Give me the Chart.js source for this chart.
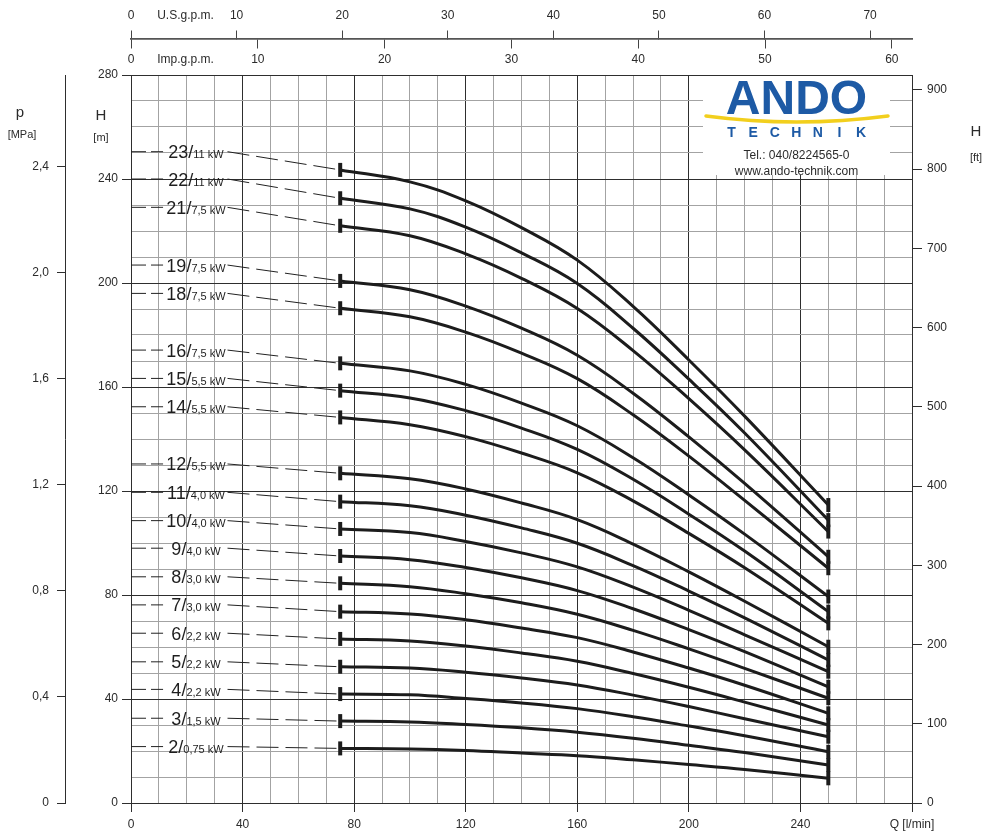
<!DOCTYPE html>
<html>
<head>
<meta charset="utf-8">
<script src="https://cdn.jsdelivr.net/npm/chart.js@4.4.1/dist/chart.umd.min.js"></script>
<style>
  html, body { margin: 0; padding: 0; background: #fff; }
  #wrap { width: 1000px; height: 837px; }
</style>
</head>
<body>
<div id="wrap"><canvas id="pump" width="1000" height="837"></canvas></div>
<script>
var flows = [75, 100, 120, 140, 160, 180, 200, 220, 250];

// stage count and motor power per curve, top to bottom
var stages = [23, 22, 21, 19, 18, 16, 15, 14, 12, 11, 10, 9, 8, 7, 6, 5, 4, 3, 2];
var powers = ['11', '11', '7,5', '7,5', '7,5', '7,5', '5,5', '5,5', '5,5', '4,0', '4,0', '4,0', '3,0', '3,0', '2,2', '2,2', '2,2', '1,5', '0,75'];
// head (m) at which each label sits
var labelHeads = [250.5, 240, 229.1, 206.9, 196, 174.2, 163.3, 152.4, 130.4, 119.5, 108.6, 98, 87, 76.2, 65.3, 54.3, 43.7, 32.6, 21.7];

// head (m) per curve at the flows above
var head23 = [243.5, 238.9, 231.6, 221.3, 208.8, 191.0, 170.4, 148.8, 114.6];
var head22 = [232.6, 228.5, 221.5, 211.6, 199.8, 182.6, 163.0, 142.3, 108.8];
var head21 = [222.0, 218.2, 211.2, 201.8, 190.2, 174.0, 155.5, 135.8, 104.4];
var head19 = [200.8, 197.4, 191.1, 182.6, 172.2, 157.6, 140.8, 122.9, 94.7];
var head18 = [190.3, 187.0, 181.1, 173.0, 163.2, 149.3, 133.4, 116.4, 90.3];
var head16 = [169.1, 166.2, 161.0, 153.8, 145.1, 132.8, 118.5, 103.4, 79.4];
var head15 = [158.6, 155.8, 150.9, 144.2, 136.0, 124.5, 111.1, 96.9, 73.6];
var head14 = [148.3, 145.5, 140.9, 134.6, 127.0, 116.2, 103.7, 90.5, 69.1];
var head12 = [126.8, 124.7, 120.8, 115.4, 109.0, 99.6, 88.9, 77.6, 60.1];
var head11 = [115.9, 114.3, 110.7, 105.8, 99.9, 91.3, 81.5, 71.2, 55.0];
var head10 = [105.4, 104.0, 100.6, 96.2, 90.8, 83.0, 74.1, 64.7, 50.5];
var head9 = [95.0, 93.6, 90.6, 86.6, 81.7, 74.7, 66.7, 58.2, 44.7];
var head8 = [84.5, 83.2, 80.5, 77.0, 72.6, 66.4, 59.3, 51.8, 40.3];
var head7 = [73.6, 72.7, 70.5, 67.3, 63.6, 58.1, 51.9, 45.3, 34.5];
var head6 = [63.1, 62.3, 60.4, 57.7, 54.5, 49.8, 44.5, 38.8, 30.0];
var head5 = [52.4, 51.9, 50.3, 48.1, 45.4, 41.5, 37.1, 32.4, 25.5];
var head4 = [41.9, 41.6, 40.2, 38.5, 36.3, 33.2, 29.6, 25.9, 19.7];
var head3 = [31.5, 31.2, 30.2, 28.9, 27.2, 24.9, 22.2, 19.4, 14.6];
var head2 = [21.0, 20.8, 20.2, 19.2, 18.2, 16.6, 14.8, 12.9, 9.5];

var heads = [head23, head22, head21, head19, head18, head16, head15, head14, head12,
  head11, head10, head9, head8, head7, head6, head5, head4, head3, head2];

// tick labels
var qTicks = [0, 40, 80, 120, 160, 200, 240];
var hTicks = [0, 40, 80, 120, 160, 200, 240, 280];
var pTicks = [0, 0.4, 0.8, 1.2, 1.6, 2.0, 2.4];
var ftTicks = [0, 100, 200, 300, 400, 500, 600, 700, 800, 900];
var usTicks = [0, 10, 20, 30, 40, 50, 60, 70];
var impTicks = [0, 10, 20, 30, 40, 50, 60];

var Q_MAX = 280, H_MAX = 280;
var LPM_PER_USGPM = 3.78541, LPM_PER_IMPGPM = 4.54609;
var FT_PER_M = 3.28084, MPA_PER_M = 0.00980665;

// where the unit names sit on the two top scales (in their own units)
var US_NAME_AT = 5.16, IMP_NAME_AT = 4.3;
// label block on the left, in l/min
var LEADER_END = 11.5, LABEL_MID = 23.3, LEADER_START = 34.6;
var TOP_LINE_H = 293.85;

var INK = '#1c1c1c', MAJOR = '#2e2e2e', MINOR = '#a3a3a3', TEXT = '#2b2b2b';
var FONT = '"Liberation Sans", Arial, Helvetica, sans-serif';

Chart.defaults.font.family = FONT;
Chart.defaults.font.size = 12;
Chart.defaults.color = TEXT;

function isMajor(v) { return Math.abs(v % 40) < 1e-6; }

function setTicks(list) {
  return function(scale) {
    scale.ticks = list.map(function(v) { return { value: v }; });
  };
}

var datasets = [];
stages.forEach(function(n, i) {
  var h = heads[i];
  datasets.push({
    label: n + ' stages',
    data: flows.map(function(q, j) { return { x: q, y: h[j] }; }),
    borderColor: INK,
    borderWidth: 3,
    tension: 0.4,
    pointStyle: 'line',
    pointRotation: 90,
    pointRadius: function(ctx) { return (ctx.dataIndex === 0 || ctx.dataIndex === flows.length - 1) ? 7 : 0; },
    pointBorderWidth: 4,
    pointBorderColor: INK,
    pointHitRadius: 0,
    fill: false
  });
  datasets.push({
    label: n + ' leader',
    data: [
      { x: 0, y: labelHeads[i] },
      { x: LEADER_END, y: labelHeads[i] },
      { x: LABEL_MID, y: null },
      { x: LEADER_START, y: labelHeads[i] },
      { x: flows[0], y: h[0] }
    ],
    borderColor: '#222',
    borderWidth: 1,
    pointRadius: 0,
    spanGaps: false,
    segment: {
      borderDash: function(ctx) { return ctx.p0DataIndex === 0 ? [15, 5] : [22, 7]; }
    }
  });
});

var decor = {
  id: 'decor',
  beforeDatasetsDraw: function(chart) {
    var ctx = chart.ctx, ca = chart.chartArea;
    var l = ca.right - 209, r = ca.right - 22, t = ca.top + 1, b = ca.top + 100;
    var cx = (l + r) / 2;
    ctx.save();
    ctx.fillStyle = '#fff';
    ctx.fillRect(l, t, r - l, b - t);
    // logo
    ctx.fillStyle = '#1d5aa5';
    ctx.textAlign = 'center';
    ctx.textBaseline = 'alphabetic';
    ctx.font = 'bold 48px ' + FONT;
    ctx.fillText('ANDO', cx, t + 38);
    ctx.strokeStyle = '#f2cf1d';
    ctx.lineWidth = 3.5;
    ctx.lineCap = 'round';
    ctx.beginPath();
    ctx.moveTo(l + 3, t + 40);
    ctx.quadraticCurveTo(cx, t + 52, r - 2, t + 40);
    ctx.stroke();
    ctx.font = 'bold 14px ' + FONT;
    var letters = 'TECHNIK'.split('');
    letters.forEach(function(c, k) {
      ctx.fillText(c, cx - 65 + k * 21.6, t + 61);
    });
    ctx.fillStyle = TEXT;
    ctx.font = '12px ' + FONT;
    ctx.textBaseline = 'middle';
    ctx.fillText('Tel.: 040/8224565-0', cx, t + 80);
    ctx.fillText('www.ando-technik.com', cx, t + 96);
    ctx.restore();
  },
  afterDatasetsDraw: function(chart) {
    var ctx = chart.ctx, xs = chart.scales.x, ys = chart.scales.y;
    ctx.save();
    ctx.fillStyle = '#1e1e1e';
    ctx.textBaseline = 'alphabetic';
    ctx.textAlign = 'left';
    stages.forEach(function(n, i) {
      var big = n + '/', small = powers[i] + ' kW';
      ctx.font = '18px ' + FONT;
      var wb = ctx.measureText(big).width;
      ctx.font = '11px ' + FONT;
      var ws = ctx.measureText(small).width;
      var left = xs.getPixelForValue(LABEL_MID) - (wb + ws) / 2;
      var yy = ys.getPixelForValue(labelHeads[i]) + 6.5;
      ctx.font = '18px ' + FONT;
      ctx.fillText(big, left, yy);
      ctx.font = '11px ' + FONT;
      ctx.fillText(small, left + wb, yy);
    });
    ctx.restore();
  },
  afterDraw: function(chart) {
    var ctx = chart.ctx;
    ctx.save();
    ctx.fillStyle = TEXT;
    ctx.textBaseline = 'middle';
    ctx.textAlign = 'center';
    ctx.font = '15px ' + FONT;
    ctx.fillText('p', 20, 113);
    ctx.fillText('H', 101, 116);
    ctx.fillText('H', 976, 132);
    ctx.font = '11px ' + FONT;
    ctx.fillText('[MPa]', 22, 135);
    ctx.fillText('[m]', 101, 138);
    ctx.fillText('[ft]', 976, 158);
    ctx.restore();
  }
};

new Chart(document.getElementById('pump'), {
  type: 'line',
  data: { datasets: datasets },
  plugins: [decor],
  options: {
    responsive: false,
    animation: false,
    events: [],
    layout: { padding: { top: 75, left: 0, right: 0, bottom: 0 } },
    plugins: { legend: { display: false }, tooltip: { enabled: false } },
    scales: {
      x: {
        type: 'linear', position: 'bottom', min: 0, max: Q_MAX,
        afterFit: function(s) { s.height = 34; },
        ticks: {
          stepSize: 10, autoSkip: false, maxRotation: 0, padding: 5, color: TEXT,
          callback: function(v) {
            if (v === Q_MAX) return 'Q [l/min]';
            return qTicks.indexOf(v) >= 0 ? String(v) : '';
          }
        },
        grid: {
          color: function(c) { return isMajor(c.tick.value) ? MAJOR : MINOR; },
          tickColor: function(c) { return isMajor(c.tick.value) ? MAJOR : 'rgba(0,0,0,0)'; },
          tickLength: 9, lineWidth: 1
        },
        border: { display: true, color: MAJOR }
      },
      y: {
        type: 'linear', position: 'left', weight: 0, min: 0, max: H_MAX,
        afterFit: function(s) { s.width = 66; },
        ticks: {
          stepSize: 10, autoSkip: false, padding: 4, color: TEXT,
          callback: function(v) { return hTicks.indexOf(v) >= 0 ? String(v) : ''; }
        },
        grid: {
          color: function(c) { return isMajor(c.tick.value) ? MAJOR : MINOR; },
          tickColor: function(c) { return isMajor(c.tick.value) ? MAJOR : 'rgba(0,0,0,0)'; },
          tickLength: 9, lineWidth: 1
        },
        border: { display: true, color: MAJOR }
      },
      yp: {
        type: 'linear', position: 'left', weight: 1, min: 0, max: H_MAX * MPA_PER_M,
        afterFit: function(s) { s.width = 65; },
        afterBuildTicks: setTicks(pTicks),
        ticks: {
          autoSkip: false, padding: 8, color: TEXT,
          callback: function(v) { return v === 0 ? '0' : v.toFixed(1).replace('.', ','); }
        },
        grid: { drawOnChartArea: false, tickLength: 8, tickColor: MAJOR },
        border: { display: true, color: MAJOR }
      },
      yft: {
        type: 'linear', position: 'right', min: 0, max: H_MAX * FT_PER_M,
        afterFit: function(s) { s.width = 88; },
        afterBuildTicks: setTicks(ftTicks),
        ticks: { autoSkip: false, padding: 5, color: TEXT },
        grid: { drawOnChartArea: false, tickLength: 10, tickColor: MAJOR },
        border: { display: false }
      },
      xus: {
        type: 'linear', position: { y: TOP_LINE_H }, min: 0, max: Q_MAX / LPM_PER_USGPM,
        afterBuildTicks: setTicks(usTicks.concat([US_NAME_AT])),
        ticks: {
          autoSkip: false, maxRotation: 0, padding: -22, color: TEXT,
          callback: function(v) { return v === US_NAME_AT ? 'U.S.g.p.m.' : String(v); }
        },
        grid: {
          drawOnChartArea: false, tickLength: -9,
          tickColor: function(c) { return c.tick.value === US_NAME_AT ? 'rgba(0,0,0,0)' : '#444'; }
        },
        border: { display: true, color: '#555', width: 1.5 }
      },
      ximp: {
        type: 'linear', position: { y: TOP_LINE_H }, min: 0, max: Q_MAX / LPM_PER_IMPGPM,
        afterBuildTicks: setTicks(impTicks.concat([IMP_NAME_AT])),
        ticks: {
          autoSkip: false, maxRotation: 0, padding: 4, color: TEXT,
          callback: function(v) { return v === IMP_NAME_AT ? 'Imp.g.p.m.' : String(v); }
        },
        grid: {
          drawOnChartArea: false, tickLength: 9,
          tickColor: function(c) { return c.tick.value === IMP_NAME_AT ? 'rgba(0,0,0,0)' : '#444'; }
        },
        border: { display: true, color: '#555', width: 1.5 }
      }
    }
  }
});
</script>
</body>
</html>
